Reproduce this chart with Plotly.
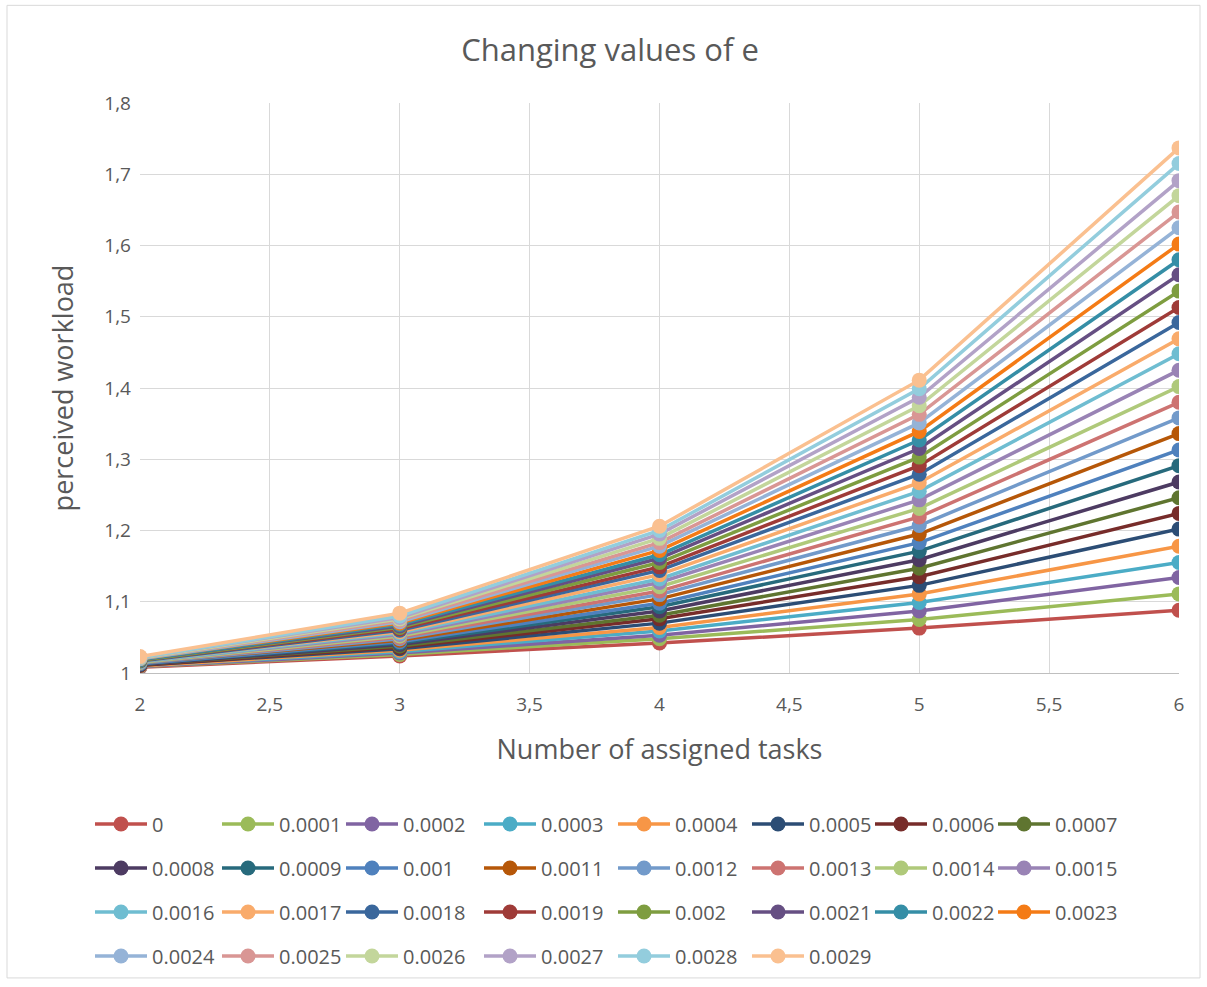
import plotly.graph_objects as go

# Number of assigned tasks
tasks = [2, 3, 4, 5, 6]

# Values of e, one series each
e_labels = ["0", "0.0001", "0.0002", "0.0003", "0.0004", "0.0005", "0.0006", "0.0007",
            "0.0008", "0.0009", "0.001", "0.0011", "0.0012", "0.0013", "0.0014", "0.0015",
            "0.0016", "0.0017", "0.0018", "0.0019", "0.002", "0.0021", "0.0022", "0.0023",
            "0.0024", "0.0025", "0.0026", "0.0027", "0.0028", "0.0029"]

# Perceived workload at x = 2, 3, 4, 5, 6 for each value of e
w_at_2 = [1.008, 1.009, 1.009, 1.010, 1.010, 1.011, 1.011, 1.012, 1.012, 1.013,
          1.013, 1.014, 1.014, 1.015, 1.015, 1.016, 1.016, 1.017, 1.017, 1.018,
          1.018, 1.019, 1.019, 1.020, 1.020, 1.021, 1.021, 1.022, 1.022, 1.023]
w_at_3 = [1.024, 1.026, 1.028, 1.030, 1.032, 1.034, 1.036, 1.038, 1.040, 1.042,
          1.044, 1.046, 1.048, 1.050, 1.052, 1.054, 1.056, 1.058, 1.060, 1.062,
          1.064, 1.066, 1.068, 1.070, 1.072, 1.074, 1.076, 1.078, 1.080, 1.084]
w_at_4 = [1.042, 1.048, 1.053, 1.059, 1.064, 1.070, 1.076, 1.081, 1.087, 1.093,
          1.098, 1.104, 1.110, 1.115, 1.121, 1.127, 1.132, 1.138, 1.144, 1.149,
          1.155, 1.161, 1.166, 1.172, 1.178, 1.183, 1.189, 1.195, 1.200, 1.206]
w_at_5 = [1.063, 1.075, 1.087, 1.099, 1.111, 1.123, 1.135, 1.147, 1.159, 1.171,
          1.183, 1.195, 1.207, 1.219, 1.231, 1.243, 1.255, 1.267, 1.279, 1.291,
          1.303, 1.315, 1.327, 1.339, 1.351, 1.363, 1.375, 1.387, 1.399, 1.411]
w_at_6 = [1.088, 1.111, 1.134, 1.155, 1.178, 1.202, 1.224, 1.246, 1.268, 1.291,
          1.313, 1.336, 1.358, 1.380, 1.402, 1.425, 1.448, 1.469, 1.492, 1.513,
          1.536, 1.559, 1.580, 1.602, 1.625, 1.647, 1.670, 1.691, 1.715, 1.737]

colors = ["#C0504D", "#9BBB59", "#8064A2", "#4BACC6", "#F79646", "#2C4D75", "#772C2A", "#5F7530",
          "#4D3B62", "#276A7C", "#4F81BD", "#B65708", "#729ACA", "#CD7371", "#AFC97A", "#9983B5",
          "#6FBDD1", "#F9AB6B", "#3A679C", "#9F3B38", "#7E9D40", "#664F83", "#358EA6", "#F47B16",
          "#95B3D7", "#D99694", "#C3D69B", "#B2A2C7", "#93CDDD", "#FAC090"]

W, H = 1207, 987
ML, MR, MT, MB = 140, 28, 103, 312
PW = W - ML - MR
PH = H - MT - MB
FONT = "Open Sans"
GREY = "#595959"

fig = go.Figure()

# Legend laid out as 8 columns; one legend object per column
col_px = [90, 217, 341, 479, 613, 747, 870, 993]
n_cols = len(col_px)

for i, lab in enumerate(e_labels):
    ys = [w_at_2[i], w_at_3[i], w_at_4[i], w_at_5[i], w_at_6[i]]
    col = i % n_cols
    leg = "legend" if col == 0 else f"legend{col + 1}"
    fig.add_trace(go.Scatter(
        x=tasks, y=ys, name=lab, mode="lines+markers",
        line=dict(color=colors[i], width=3.5),
        marker=dict(color=colors[i], size=15),
        legend=leg, legendgroup=lab,
    ))

legend_top_px = 807
for col, px in enumerate(col_px):
    key = "legend" if col == 0 else f"legend{col + 1}"
    fig.update_layout(**{key: dict(
        x=(px - ML) / PW, xanchor="left",
        y=(H - MB - legend_top_px) / PH, yanchor="top",
        orientation="v", tracegroupgap=15,
        font=dict(family=FONT, size=20, color=GREY),
        bgcolor="rgba(0,0,0,0)", itemwidth=52,
    )})

fig.update_layout(
    width=W, height=H,
    margin=dict(l=ML, r=MR, t=MT, b=MB),
    paper_bgcolor="white", plot_bgcolor="white",
    separators=",.",
    font=dict(family=FONT, color=GREY),
    title=dict(text="Changing values of e", x=610 / W, xref="container", xanchor="center",
               y=1 - 50 / H, yanchor="middle",
               font=dict(family=FONT, size=31, color=GREY)),
    showlegend=True,
    xaxis=dict(range=[2, 6], dtick=0.5, tick0=2, showgrid=True, gridcolor="#D9D9D9", gridwidth=1,
               zeroline=False, showline=True, linecolor="#BFBFBF", linewidth=1, ticks="",
               ticklabelstandoff=14,
               tickfont=dict(family=FONT, size=19, color=GREY),
               title=dict(text="Number of assigned tasks", font=dict(family=FONT, size=27, color=GREY),
                          standoff=24)),
    yaxis=dict(range=[1, 1.8], dtick=0.1, tick0=1, showgrid=True, gridcolor="#D9D9D9", gridwidth=1,
               zeroline=False, showline=False, ticks="",
               ticklabelstandoff=8,
               tickfont=dict(family=FONT, size=19, color=GREY),
               title=dict(text="perceived workload", font=dict(family=FONT, size=27, color=GREY),
                          standoff=22)),
)

# Thin outer frame around the whole chart
fig.add_shape(type="rect", xref="paper", yref="paper",
              x0=(7 - ML) / PW, x1=(1200 - ML) / PW,
              y0=(H - MB - 981) / PH, y1=(H - MB - 5) / PH,
              line=dict(color="#D9D9D9", width=1), fillcolor="rgba(0,0,0,0)", layer="below")

fig.write_html("out.html")
